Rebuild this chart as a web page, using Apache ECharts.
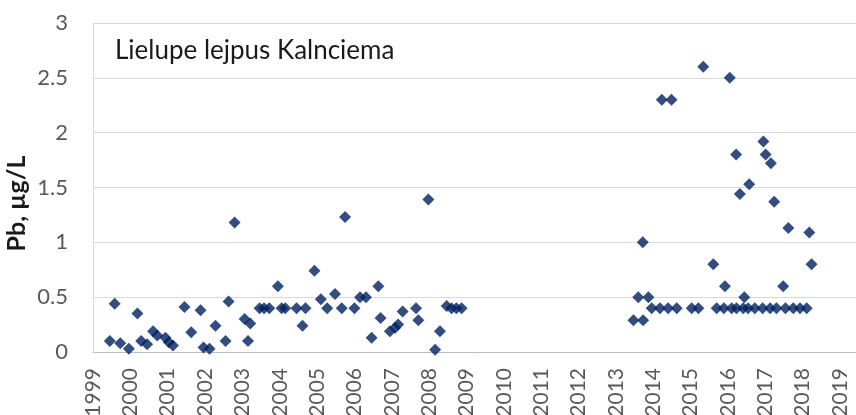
<!DOCTYPE html>
<html>
<head>
<meta charset="utf-8">
<script src="https://cdn.jsdelivr.net/npm/echarts@6/dist/echarts.min.js"></script>
<style>
  html, body { margin: 0; padding: 0; background: #fff; }
  #chart { width: 856px; height: 415px; }
</style>
</head>
<body>
<div id="chart"></div>
<script>
// sampling time as decimal year, Pb concentration µg/L
const sampleYears = [
  1999.45, 1999.58, 1999.73, 1999.96, 2000.19, 2000.29, 2000.45, 2000.61, 2000.72, 2000.94,
  2001.03, 2001.14, 2001.45, 2001.63, 2001.88, 2001.96, 2002.12, 2002.28, 2002.55, 2002.63,
  2002.79, 2003.06, 2003.15, 2003.21, 2003.46, 2003.58, 2003.72, 2003.95, 2004.05, 2004.15,
  2004.45, 2004.61, 2004.69, 2004.93, 2005.10, 2005.27, 2005.48, 2005.66, 2005.75, 2006.00,
  2006.15, 2006.31, 2006.46, 2006.64, 2006.70, 2006.95, 2007.09, 2007.17, 2007.29, 2007.65,
  2007.71, 2007.98, 2008.16, 2008.29, 2008.47, 2008.60, 2008.73, 2008.87,
  2013.47, 2013.60, 2013.72, 2013.73, 2013.87, 2013.96, 2014.18, 2014.23, 2014.40, 2014.49,
  2014.63, 2015.03, 2015.21, 2015.34, 2015.61, 2015.70, 2015.89, 2015.92, 2016.05, 2016.10,
  2016.22, 2016.23, 2016.32, 2016.41, 2016.44, 2016.54, 2016.57, 2016.72, 2016.93, 2016.95,
  2017.01, 2017.13, 2017.15, 2017.24, 2017.30, 2017.48, 2017.54, 2017.62, 2017.75, 2017.93,
  2018.11, 2018.18, 2018.24
]
const pbValues = [
  0.10, 0.44, 0.08, 0.03, 0.35, 0.10, 0.07, 0.19, 0.15, 0.13,
  0.09, 0.06, 0.41, 0.18, 0.38, 0.04, 0.03, 0.24, 0.10, 0.46,
  1.18, 0.30, 0.10, 0.26, 0.40, 0.40, 0.40, 0.60, 0.40, 0.40,
  0.40, 0.24, 0.40, 0.74, 0.48, 0.40, 0.53, 0.40, 1.23, 0.40,
  0.50, 0.50, 0.13, 0.60, 0.31, 0.19, 0.22, 0.25, 0.37, 0.40,
  0.29, 1.39, 0.02, 0.19, 0.42, 0.40, 0.40, 0.40,
  0.29, 0.50, 1.00, 0.29, 0.50, 0.40, 0.40, 2.30, 0.40, 2.30,
  0.40, 0.40, 0.40, 2.60, 0.80, 0.40, 0.40, 0.60, 2.50, 0.40,
  1.80, 0.40, 1.44, 0.40, 0.50, 0.40, 1.53, 0.40, 0.40, 1.92,
  1.80, 0.40, 1.72, 1.37, 0.40, 0.60, 0.40, 1.13, 0.40, 0.40,
  0.40, 1.09, 0.80
]
const yTicks = [0, 0.5, 1, 1.5, 2, 2.5, 3]
const stationName = 'Lielupe lejpus Kalnciema'
const yAxisName = 'Pb, µg/L'

const font = 'Lato, "Open Sans", sans-serif'
const chart = echarts.init(document.getElementById('chart'))

chart.setOption({
  animation: false,
  backgroundColor: '#ffffff',
  title: {
    text: stationName,
    left: 110,
    top: 33,
    textStyle: { color: '#1a1a1a', fontSize: 26, fontWeight: 'normal', fontFamily: font }
  },
  grid: { left: 93, right: 0, top: 23, bottom: 63, outerBoundsMode: 'none' },
  xAxis: {
    type: 'value',
    min: 1999,
    max: 2019.43,
    interval: 1,
    axisLine: { show: true, lineStyle: { color: '#bfbfbf', width: 1 } },
    axisTick: { show: false },
    splitLine: { show: false },
    axisLabel: {
      rotate: 90,
      margin: 16,
      color: '#595959',
      fontSize: 21,
      fontFamily: font,
      showMaxLabel: false,
      formatter: (v) => (Number.isInteger(v) ? String(v) : '')
    }
  },
  yAxis: {
    type: 'value',
    min: yTicks[0],
    max: yTicks[yTicks.length - 1],
    interval: 0.5,
    name: yAxisName,
    nameLocation: 'middle',
    nameGap: 64,
    nameMoveOverlap: false,
    nameTextStyle: {
      color: '#1a1a1a',
      fontSize: 25,
      fontWeight: 'bold',
      fontFamily: font,
      padding: [0, 32, 0, 0]
    },
    axisLine: { show: true, lineStyle: { color: '#d9d9d9', width: 1 } },
    axisTick: { show: false },
    splitLine: { lineStyle: { color: '#d9d9d9', width: 1 } },
    axisLabel: { color: '#595959', fontSize: 22, fontFamily: font, margin: 25 }
  },
  series: [
    {
      type: 'scatter',
      symbol: 'diamond',
      symbolSize: [12, 12],
      itemStyle: { color: '#002060' },
      data: sampleYears.map((y, i) => [y, pbValues[i]])
    }
  ]
})
</script>
</body>
</html>
